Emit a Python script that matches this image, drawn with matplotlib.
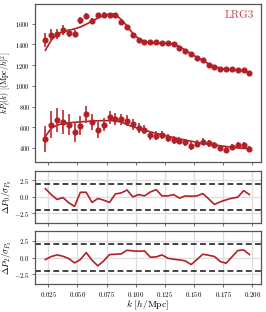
import numpy as np
import matplotlib
matplotlib.use("Agg")
import matplotlib.pyplot as plt

plt.rcParams["font.family"] = "serif"
plt.rcParams["font.serif"] = ["cmr10"]
plt.rcParams["mathtext.fontset"] = "cm"
plt.rcParams["axes.formatter.use_mathtext"] = True
plt.rcParams["axes.unicode_minus"] = True

# k bins
k = [0.0225, 0.0275, 0.0325, 0.0375, 0.0425, 0.0475, 0.0525, 0.0575, 0.0625,
     0.0675, 0.0725, 0.0775, 0.0825, 0.0875, 0.0925, 0.0975, 0.1025, 0.1075,
     0.1125, 0.1175, 0.1225, 0.1275, 0.1325, 0.1375, 0.1425, 0.1475, 0.1525,
     0.1575, 0.1625, 0.1675, 0.1725, 0.1775, 0.1825, 0.1875, 0.1925, 0.1975]

# monopole k*P0 data, errors, model
kp0 = [1443, 1491, 1501, 1539, 1513, 1504, 1635, 1674, 1626, 1680, 1687, 1683,
       1680, 1619, 1571, 1488, 1446, 1420, 1420, 1423, 1417, 1414, 1408, 1369,
       1334, 1308, 1273, 1247, 1205, 1183, 1163, 1160, 1160, 1157, 1151, 1128]
kp0_err = [70, 55, 50, 45, 40, 35, 33, 30, 28, 26, 24, 22, 21, 20, 19, 18, 17, 16,
           15, 15, 14, 14, 13, 13, 12, 12, 12, 11, 11, 11, 10, 10, 10, 10, 10, 10]
kp0_model = [1344, 1440, 1495, 1522, 1537, 1550, 1568, 1595, 1625, 1655, 1680, 1693,
             1692, 1640, 1580, 1505, 1455, 1428, 1415, 1412, 1412, 1410, 1400, 1380,
             1345, 1310, 1275, 1243, 1213, 1188, 1170, 1160, 1155, 1150, 1144, 1130]

# quadrupole k*P2 data, errors, model
kp2 = [485, 626, 667, 648, 626, 555, 616, 725, 654, 574, 626, 696,
       677, 677, 664, 628, 597, 578, 521, 518, 528, 493, 480, 471,
       455, 420, 439, 461, 446, 430, 398, 380, 408, 433, 433, 392]
kp2_err = [125, 130, 115, 115, 105, 100, 88, 85, 78, 75, 65, 65, 58, 55, 52, 50, 48, 46,
           44, 42, 40, 39, 38, 37, 36, 35, 34, 33, 32, 31, 30, 30, 29, 28, 28, 27]
kp2_model = [510, 590, 620, 635, 643, 648, 652, 656, 660, 662, 664, 664,
             662, 650, 625, 605, 588, 572, 556, 541, 527, 513, 500, 488,
             476, 465, 455, 446, 437, 429, 421, 414, 407, 401, 396, 391]

# normalised residuals
res0 = [1.25, 0.35, -0.4, -0.1, -0.9, -1.45, 0.7, 0.7, -0.85, -0.25, -0.5, -0.85,
        0.45, 0.6, 1.05, 0.0, 0.35, 0.15, 0.75, 1.1, 0.15, 0.15, 0.35, -0.2,
        0.15, 0.1, 0.15, 0.5, -0.3, -1.15, -0.75, -0.45, -0.2, -0.05, 0.95, 0.35]
res2 = [-0.3, 0.15, 0.4, 0.2, -0.15, -0.8, -0.3, 0.75, -0.4, -1.25, -0.5, 0.45,
        0.5, 0.55, 1.1, 1.0, 0.95, 1.0, 0.05, 0.1, 0.4, -0.1, -0.25, -0.35,
        -0.5, -1.05, -0.3, 0.5, 0.35, 0.15, -0.6, -0.85, 0.1, 1.05, 1.15, 0.45]

red = "#b22027"
spine_col = "#555555"

fig = plt.figure(figsize=(2.66, 3.12), dpi=100)
ax0 = fig.add_axes([0.1316, 0.481, 0.850, 0.506])
ax1 = fig.add_axes([0.1316, 0.285, 0.850, 0.168])
ax2 = fig.add_axes([0.1316, 0.089, 0.850, 0.171])

#--------- top panel
for d, e, m in [(kp0, kp0_err, kp0_model), (kp2, kp2_err, kp2_model)]:
    ax0.plot(k, m, color=red, lw=1.2, zorder=2)
    ax0.errorbar(k, d, yerr=e, fmt="o", color=red, ms=3.4, elinewidth=1.3,
                 ecolor="#c0393f", capsize=0, zorder=3)
ax0.set_ylim(265, 1790)
ax0.set_yticks([400, 600, 800, 1000, 1200, 1400, 1600])
ax0.set_ylabel(r"$kP_\ell(k)\ [(\mathrm{Mpc}/h)^2]$", fontsize=5.6)
ax0.text(0.97, 0.93, "LRG3", transform=ax0.transAxes, ha="right", va="center",
         color="#c0474c", fontsize=8)

#--------- residual panels
for ax, r, lab in [(ax1, res0, r"$\Delta P_0/\sigma_{P_0}$"),
                   (ax2, res2, r"$\Delta P_2/\sigma_{P_2}$")]:
    ax.grid(True, color="#dddddd", lw=0.9, zorder=0)
    ax.plot(k, r, color=red, lw=1.2, zorder=3)
    ax.axhline(2, color="#222222", ls="--", lw=1.2, dashes=(3.5, 2), zorder=2)
    ax.axhline(-2, color="#222222", ls="--", lw=1.2, dashes=(3.5, 2), zorder=2)
    ax.set_ylim(-4, 4)
    ax.set_yticks([-2.5, 0.0, 2.5])
    ax.yaxis.set_major_formatter(matplotlib.ticker.FormatStrFormatter(r"$%.1f$"))
    ax.set_ylabel(lab, fontsize=6.5)
    ax.yaxis.set_label_coords(-0.095, 0.5)

for ax in [ax0, ax1, ax2]:
    ax.set_xlim(0.0136, 0.2075)
    ax.set_xticks([0.025, 0.05, 0.075, 0.1, 0.125, 0.15, 0.175, 0.2])
    ax.xaxis.set_major_formatter(matplotlib.ticker.FormatStrFormatter(r"$%.3f$"))
    ax.tick_params(labelsize=5, length=2.5, width=0.6, color=spine_col, pad=1.5)
    for s in ax.spines.values():
        s.set_color(spine_col)
        s.set_linewidth(0.9)
# four-digit labels on the top panel: a touch smaller so the y label fits
ax0.tick_params(axis="y", labelsize=4.6, pad=1.2)
ax0.yaxis.set_label_coords(-0.092, 0.5)
ax0.tick_params(labelbottom=False)
ax1.tick_params(labelbottom=False)
ax2.set_xlabel(r"$k\ [h/\mathrm{Mpc}]$", fontsize=7)
ax2.xaxis.set_label_coords(0.5, -0.27)

fig.savefig("out.png", dpi=100)
